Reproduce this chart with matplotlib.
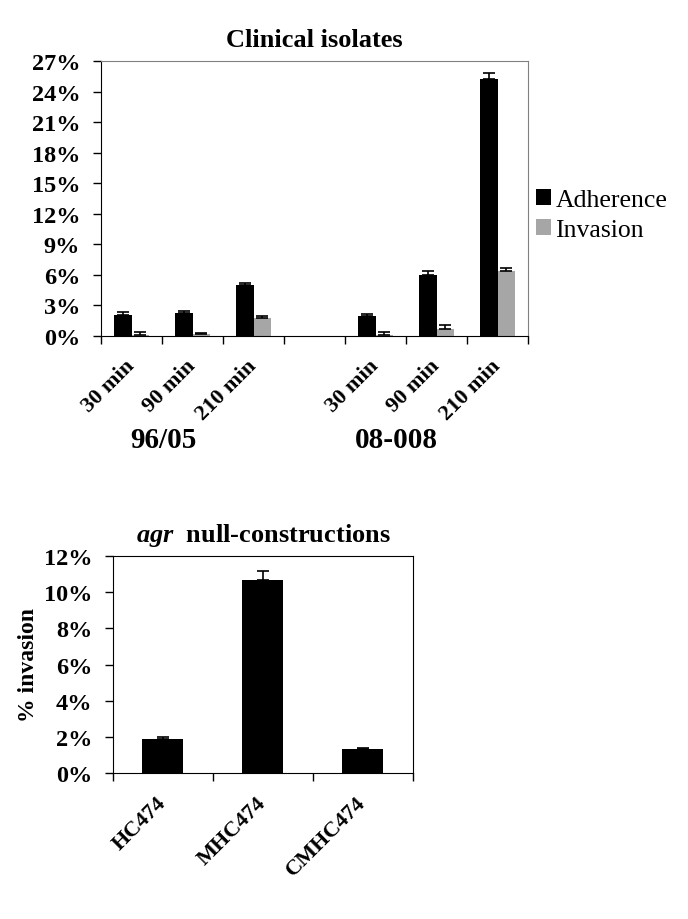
import matplotlib
matplotlib.use("Agg")
import matplotlib.pyplot as plt
import matplotlib.transforms as mtransforms
import numpy as np

plt.rcParams['font.family'] = ['Liberation Serif', 'DejaVu Serif']
plt.rcParams['mathtext.fontset'] = 'custom'
plt.rcParams['mathtext.it'] = 'Liberation Serif:italic:bold'
plt.rcParams['mathtext.rm'] = 'Liberation Serif:bold'

# дані верхнього графіка (клінічні ізоляти)
time_labels = ["30 min", "90 min", "210 min", "", "30 min", "90 min", "210 min"]
adherence = [2.05, 2.25, 5.0, 0, 1.95, 6.0, 25.2]
adherence_err = [0.3, 0.17, 0.2, 0, 0.17, 0.36, 0.65]
invasion = [0.1, 0.2, 1.77, 0, 0.1, 0.7, 6.38]
invasion_err = [0.26, 0.07, 0.16, 0, 0.26, 0.36, 0.26]
strains = ["96/05", "08-008"]

# дані нижнього графіка (agr null-constructions)
constructs = ["HC474", "MHC474", "CMHC474"]
construct_inv = [1.88, 10.67, 1.33]
construct_err = [0.09, 0.48, 0.05]

black = "#000000"
grey = "#a6a6a6"
err_style = dict(ecolor=black, capsize=4, elinewidth=1.2, capthick=1.2)

fig = plt.figure(figsize=(6.88, 9.2), dpi=100)

# ---------- верхній графік ----------
ax1 = fig.add_axes([101 / 688, 1 - 337 / 920, 427 / 688, 275 / 920])
x = np.arange(len(time_labels))
w = 0.295
mask = np.array([lbl != "" for lbl in time_labels])
zeros = np.zeros(len(x))
ax1.bar(x[mask] - w / 2, np.array(adherence)[mask], w, color=black,
        yerr=[zeros[mask], np.array(adherence_err)[mask]],
        error_kw=err_style, label="Adherence")
ax1.bar(x[mask] + w / 2, np.array(invasion)[mask], w, color=grey,
        yerr=[zeros[mask], np.array(invasion_err)[mask]],
        error_kw=err_style, label="Invasion")
ax1.set_xlim(-0.5, len(x) - 0.5)
ax1.set_ylim(0, 27)
ax1.set_yticks(np.arange(0, 28, 3))
ax1.set_yticklabels([f"{v}%" for v in range(0, 28, 3)], fontsize=17.5, fontweight="bold")
ax1.set_xticks(x[mask])
ax1.set_xticklabels([t for t in time_labels if t], rotation=45, ha="right", va="center",
                    rotation_mode="anchor", fontsize=16, fontweight="bold")
ax1.set_xticks(np.arange(-0.5, len(x)), minor=True)
ax1.tick_params(axis="x", which="major", length=0, pad=19)
ax1.tick_params(axis="x", which="minor", length=6, width=1, direction="out")
ax1.tick_params(axis="y", length=6, width=1, direction="out", pad=9)
for s in ["top", "right"]:
    ax1.spines[s].set_color("#808080")
for s in ["left", "bottom"]:
    ax1.spines[s].set_color(black)
ax1.set_title("Clinical isolates", fontsize=19, fontweight="bold", pad=11)

# підписи штамів під групами
trans = mtransforms.blended_transform_factory(ax1.transData, ax1.transAxes)
ax1.text(1 - 0.48, -0.375, strains[0], transform=trans, ha="center", va="center",
         fontsize=21, fontweight="bold")
ax1.text(5 - 0.66, -0.375, strains[1], transform=trans, ha="center", va="center",
         fontsize=21, fontweight="bold")

fig.legend(loc="center left", bbox_to_anchor=(536 / 688, 1 - 216 / 920),
           frameon=False, fontsize=18.5, handlelength=0.6, handleheight=0.6,
           handletextpad=0.15, labelspacing=0.3, borderpad=0, borderaxespad=0)

# ---------- нижній графік ----------
ax2 = fig.add_axes([113 / 688, 1 - 774 / 920, 300 / 688, 217 / 920])
x2 = np.arange(len(constructs))
ax2.bar(x2, construct_inv, 0.41, color=black,
        yerr=[np.zeros(len(x2)), construct_err], error_kw=err_style)
ax2.set_xlim(-0.5, len(x2) - 0.5)
ax2.set_ylim(0, 12)
ax2.set_yticks(np.arange(0, 13, 2))
ax2.set_yticklabels([f"{v}%" for v in range(0, 13, 2)], fontsize=17.5, fontweight="bold")
ax2.set_xticks(x2)
ax2.set_xticklabels(constructs, rotation=45, ha="right", va="center", rotation_mode="anchor",
                    fontsize=16, fontweight="bold")
ax2.set_xticks(np.arange(-0.5, len(x2)), minor=True)
ax2.tick_params(axis="x", which="major", length=0, pad=19)
ax2.tick_params(axis="x", which="minor", length=6, width=1, direction="out")
ax2.tick_params(axis="y", length=6, width=1, direction="out", pad=9)
ax2.set_ylabel("% invasion", fontsize=17, fontweight="bold", labelpad=3.5)
ax2.set_title(r"$\it{agr}$  null-constructions", fontsize=19, fontweight="bold", pad=11)

fig.savefig("out.png", dpi=100)
